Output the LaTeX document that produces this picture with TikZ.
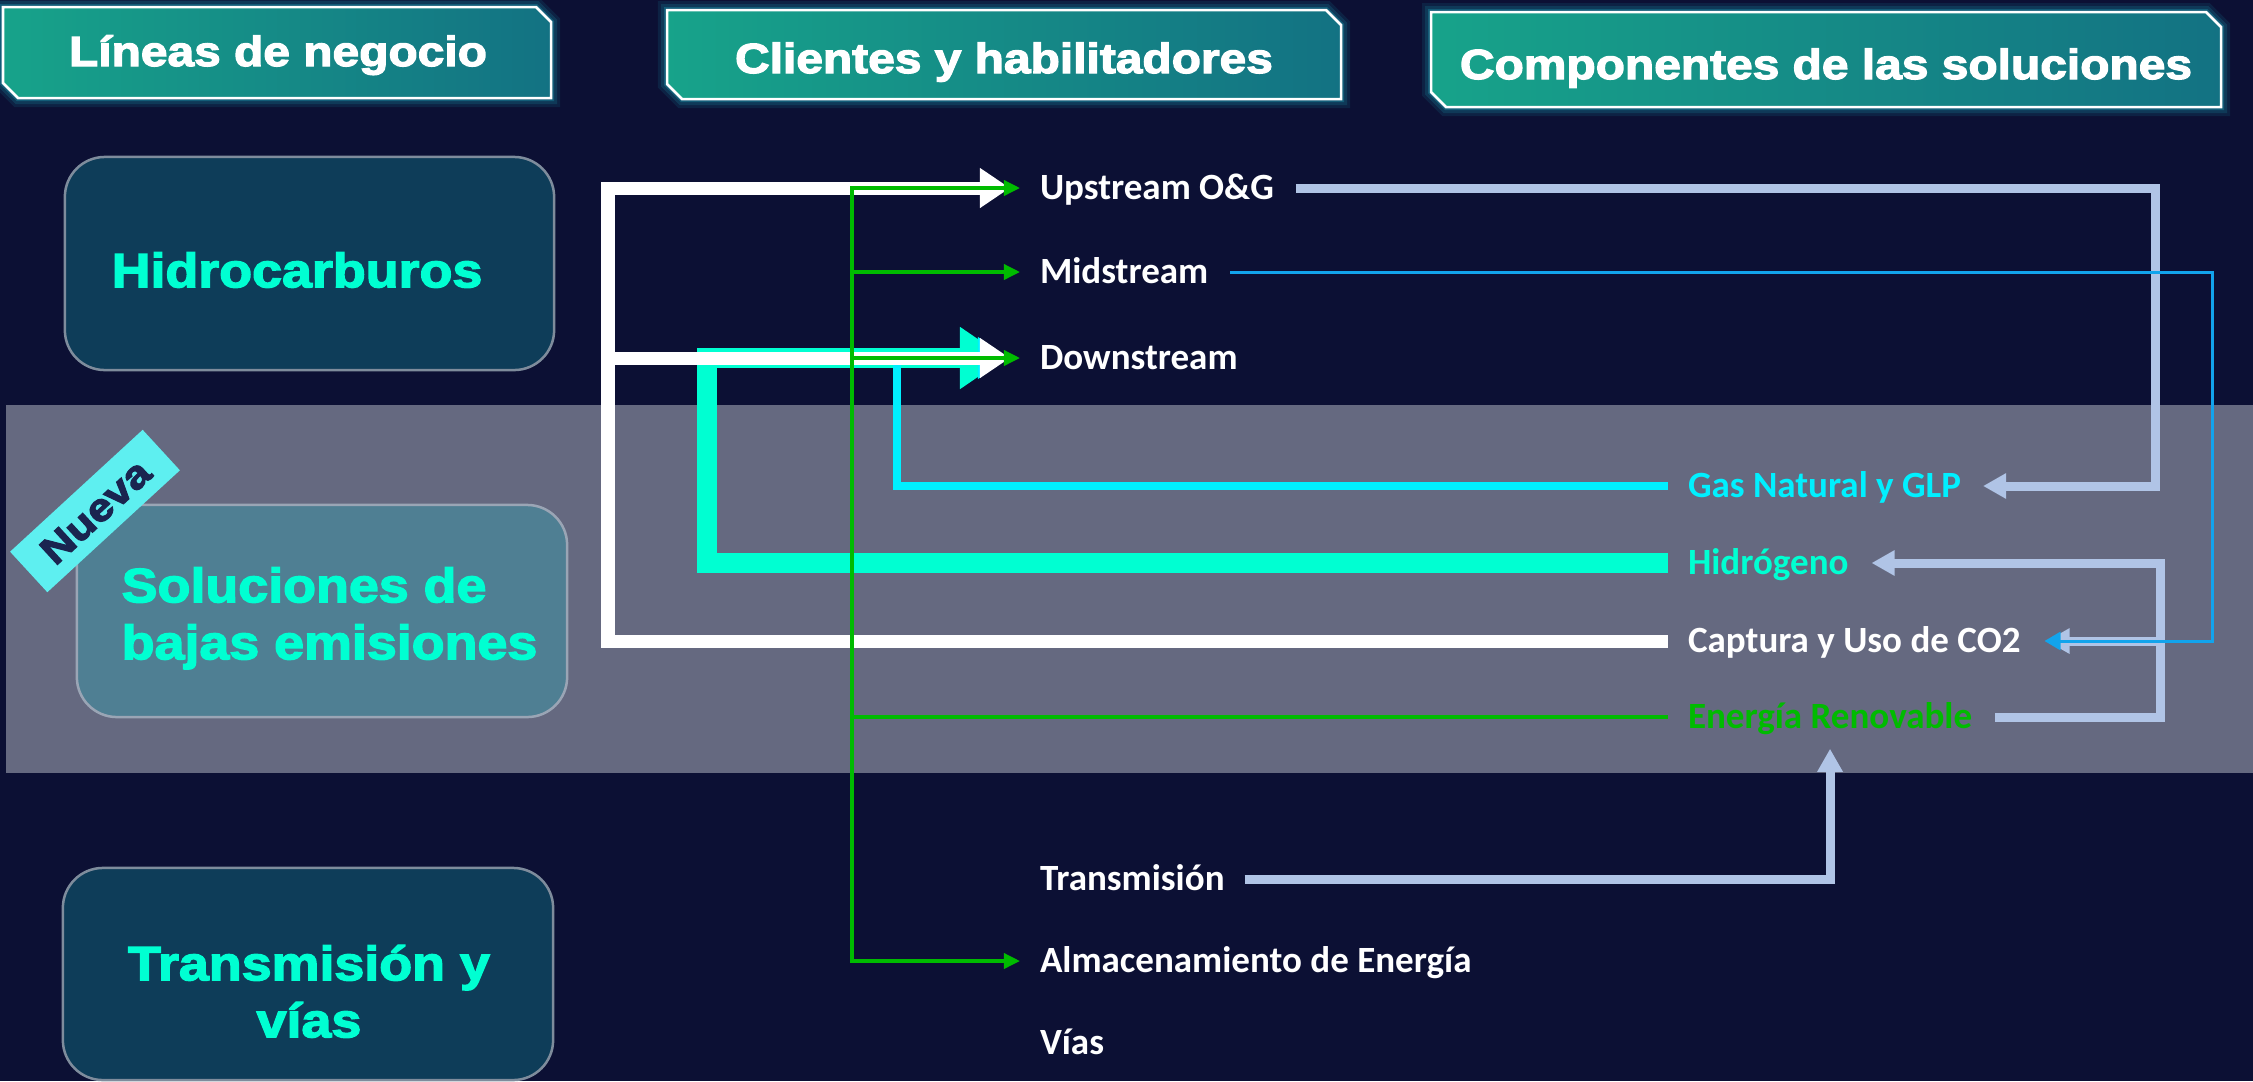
\documentclass[tikz,border=0pt]{standalone}
\usepackage{fontspec}
\setmainfont{Carlito}
\newfontfamily\blkA{Liberation Sans}[BoldFeatures={FakeBold=3,FakeStretch=1.14}]
\newfontfamily\blkB{Liberation Sans}[BoldFeatures={FakeBold=3,FakeStretch=1.12}]
\usetikzlibrary{arrows.meta}
\definecolor{bg}{HTML}{0C1034}
\definecolor{band}{HTML}{656980}
\definecolor{aqua}{HTML}{00FFD2}
\definecolor{cyanl}{HTML}{00F0FF}
\definecolor{gr}{HTML}{00BB00}
\definecolor{steel}{HTML}{B0C4E6}
\definecolor{blu}{HTML}{12A4EC}
\definecolor{hdrL}{HTML}{17A38A}
\definecolor{hdrR}{HTML}{137283}
\definecolor{glowc}{HTML}{1FC8D8}
\definecolor{boxA}{HTML}{0E3D59}
\definecolor{boxB}{HTML}{4F7F93}
\definecolor{boxline}{HTML}{7E8C9C}
\definecolor{boxlineB}{HTML}{9AA5B5}
\definecolor{nueva}{HTML}{5EEFF0}
\definecolor{nuevatxt}{HTML}{1A2550}
\tikzset{
  glowA/.style={draw=glowc, line width=0.18cm, opacity=0.10},
  glowB/.style={draw=glowc, line width=0.12cm, opacity=0.14},
  glowC/.style={draw=glowc, line width=0.06cm, opacity=0.25},
  hdrfill/.style={left color=hdrL, right color=hdrR},
  hdrline/.style={draw=white, line width=0.025cm},
  htext/.style={inner sep=0pt, text=white, text height=0.30cm, text depth=0pt,
    font={\blkA\bfseries\fontsize{11.95}{14}\selectfont}},
  lbox/.style={rounded corners=0.4cm, draw=boxline, line width=0.025cm, inner sep=0pt},
  ltext/.style={inner sep=0pt, text=aqua, text height=0.344cm, text depth=0pt,
    font={\blkB\bfseries\fontsize{13.66}{16}\selectfont}},
  mtext/.style={anchor=west, inner sep=0pt, outer sep=0pt, text=white,
    text height=0.235cm, text depth=0pt, font={\fontsize{10.53}{12}\selectfont\bfseries}},
  wline/.style={draw=white, line width=0.13cm},
  aline/.style={draw=aqua, line width=0.2cm},
  cline/.style={draw=cyanl, line width=0.08cm},
  gline/.style={draw=gr, line width=0.035cm},
  sline/.style={draw=steel, line width=0.09cm},
  bline/.style={draw=blu, line width=0.03cm},
}
\begin{document}
\begin{tikzpicture}[x=0.01cm, y=-0.01cm, line join=miter]
\useasboundingbox (0,0) rectangle (2253,1081);
\fill[bg] (0,0) rectangle (2253,1081);
\fill[band] (6,405) rectangle (2253,773);

% header boxes
\foreach \g in {glowA,glowB,glowC}{
  \draw[\g] (3,7) -- (536,7) -- (551,22) -- (551,98) -- (18,98) -- (3,83) -- cycle;
  \draw[\g] (667,10) -- (1326,10) -- (1341,25) -- (1341,99) -- (682,99) -- (667,84) -- cycle;
  \draw[\g] (1431,12) -- (2206,12) -- (2221,27) -- (2221,107) -- (1446,107) -- (1431,92) -- cycle;
}
\shade[hdrfill] (3,7) -- (536,7) -- (551,22) -- (551,98) -- (18,98) -- (3,83) -- cycle;
\shade[hdrfill] (667,10) -- (1326,10) -- (1341,25) -- (1341,99) -- (682,99) -- (667,84) -- cycle;
\shade[hdrfill] (1431,12) -- (2206,12) -- (2221,27) -- (2221,107) -- (1446,107) -- (1431,92) -- cycle;
\draw[hdrline] (3,7) -- (536,7) -- (551,22) -- (551,98) -- (18,98) -- (3,83) -- cycle;
\draw[hdrline] (667,10) -- (1326,10) -- (1341,25) -- (1341,99) -- (682,99) -- (667,84) -- cycle;
\draw[hdrline] (1431,12) -- (2206,12) -- (2221,27) -- (2221,107) -- (1446,107) -- (1431,92) -- cycle;
\node[htext] (h1) at (278,51) {Líneas de negocio};
\node[htext] (h2) at (1004,58) {Clientes y habilitadores};
\node[htext] (h3) at (1826,64) {Componentes de las soluciones};

% left boxes
\node[lbox, fill=boxA, minimum width=4.89cm, minimum height=2.13cm] (hidrobox) at (309.5,263.5) {};
\node[lbox, fill=boxB, draw=boxlineB, minimum width=4.9cm, minimum height=2.12cm] (solbox) at (322,611) {};
\node[lbox, fill=boxA, minimum width=4.9cm, minimum height=2.12cm] (trbox) at (308,974) {};
\node[ltext] (hidrotxt) at (297,270) {Hidrocarburos};
\node[ltext, anchor=west] (sol1) at (121,585) {Soluciones de};
\node[ltext, anchor=west] (sol2) at (121,642) {bajas emisiones};
\node[ltext] (tr1) at (309,963) {Transmisión y};
\node[ltext] (tr2) at (309,1020) {vías};

% middle and right texts
\node[mtext] (upstream) at (1040,188) {Upstream O\&G};
\node[mtext] (midstream) at (1040,272) {Midstream};
\node[mtext] (downstream) at (1040,358) {Downstream};
\node[mtext] (transmision) at (1040,879) {Transmisión};
\node[mtext] (almacen) at (1040,961) {Almacenamiento de Energía};
\node[mtext] (vias) at (1040,1043) {Vías};
\node[mtext, text=cyanl] (gas) at (1688,486) {Gas Natural y GLP};
\node[mtext, text=aqua] (hidrogeno) at (1688,563) {Hidrógeno};
\node[mtext] (captura) at (1688,641) {Captura y Uso de CO2};
\node[mtext, text=gr] (energia) at (1688,717) {Energía Renovable};

% helper verticals
\coordinate (vW) at (608,0);
\coordinate (vA) at (707,0);
\coordinate (vG) at (852,0);
\coordinate (vC) at (897,0);
\coordinate (vS1) at (2155,0);
\coordinate (vS2) at (2160,0);
\coordinate (vB) at (2212,0);

% connectors into the second column
\draw[aline, -{Triangle[length=0.46cm,width=0.59cm]}] ([xshift=-0.2cm]hidrogeno.west) -- (vA |- hidrogeno.west) -- (vA |- downstream.west) -- ([xshift=-0.34cm]downstream.west);
\draw[cline, -{Triangle[length=0.3cm,width=0.4cm]}] ([xshift=-0.2cm]gas.west) -- (vC |- gas.west) -- (vC |- downstream.west) -- ([xshift=-0.32cm]downstream.west);
\draw[wline, -{Triangle[length=0.3cm,width=0.38cm]}] ([xshift=-0.2cm]captura.west) -- (vW |- captura.west) -- (vW |- upstream.west) -- ([xshift=-0.3cm]upstream.west);
\draw[wline, -{Triangle[length=0.3cm,width=0.38cm]}] (vW |- downstream.west) -- ([xshift=-0.3cm]downstream.west);
\draw[gline, {Triangle[length=0.16cm,width=0.15cm]}-{Triangle[length=0.16cm,width=0.15cm]}] ([xshift=-0.2cm]upstream.west) -- (vG |- upstream.west) -- (vG |- almacen.west) -- ([xshift=-0.2cm]almacen.west);
\draw[gline, -{Triangle[length=0.16cm,width=0.15cm]}] (vG |- midstream.west) -- ([xshift=-0.2cm]midstream.west);
\draw[gline, -{Triangle[length=0.16cm,width=0.15cm]}] (vG |- downstream.west) -- ([xshift=-0.2cm]downstream.west);
\draw[gline] ([xshift=-0.2cm]energia.west) -- (vG |- energia.west);

% connectors into the third column
\draw[sline, -{Triangle[length=0.23cm,width=0.24cm]}] ([xshift=0.22cm]upstream.east) -- (vS1 |- upstream.east) -- (vS1 |- gas.east) -- ([xshift=0.22cm]gas.east);
\draw[sline, -{Triangle[length=0.23cm,width=0.24cm]}] ([xshift=0.23cm]energia.east) -- (vS2 |- energia.east) -- (vS2 |- hidrogeno.east) -- ([xshift=0.23cm]hidrogeno.east);
\draw[sline, -{Triangle[length=0.23cm,width=0.24cm]}] (vS2 |- captura.east) -- ([xshift=0.26cm]captura.east);
\draw[sline, -{Triangle[length=0.23cm,width=0.24cm]}] ([xshift=0.2cm]transmision.east) -| ([yshift=-0.2cm]energia.south);
\draw[bline, -{Triangle[length=0.16cm,width=0.18cm]}] ([xshift=0.22cm]midstream.east) -- (vB |- midstream.east) -- (vB |- captura.east) -- ([xshift=0.24cm]captura.east);

% ribbon
\node[fill=nueva, rotate=42.6, minimum width=1.8cm, minimum height=0.55cm, inner sep=0pt,
  text=nuevatxt, text height=0.28cm, text depth=0pt,
  font={\blkA\bfseries\fontsize{11.1}{13}\selectfont}] (nueva) at (95,511) {Nueva};
\end{tikzpicture}
\end{document}
